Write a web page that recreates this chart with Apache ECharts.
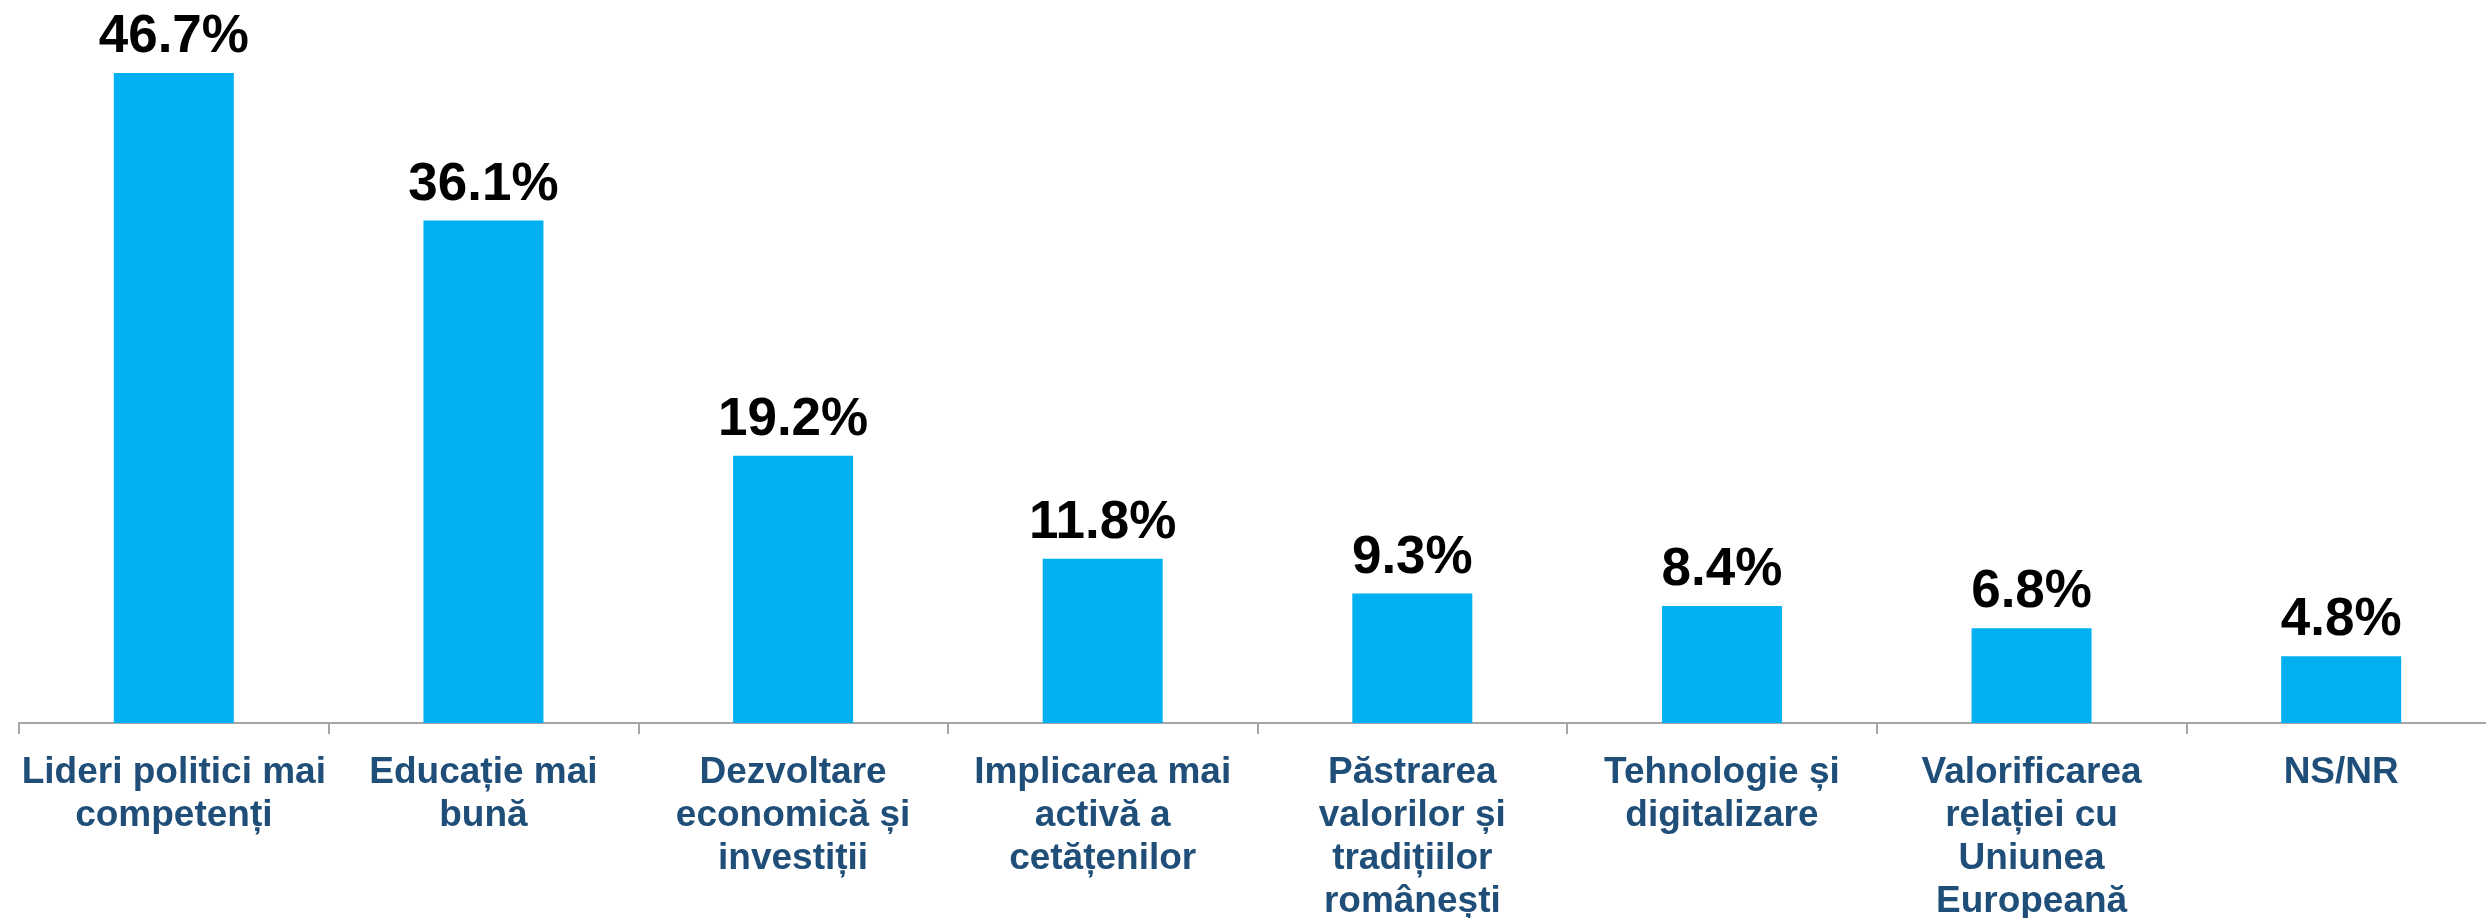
<!DOCTYPE html>
<html>
<head>
<meta charset="utf-8">
<style>
  html, body { margin: 0; padding: 0; background: #ffffff; }
  #chart { width: 2486px; height: 918px; }
</style>
<script src="https://cdn.jsdelivr.net/npm/echarts@6/dist/echarts.min.js"></script>
</head>
<body>
<div id="chart"></div>
<script>
const categories = [
  "Lideri politici mai\ncompetenți",
  "Educație mai\nbună",
  "Dezvoltare\neconomică și\ninvestiții",
  "Implicarea mai\nactivă a\ncetățenilor",
  "Păstrarea\nvalorilor și\ntradițiilor\nromânești",
  "Tehnologie și\ndigitalizare",
  "Valorificarea\nrelației cu\nUniunea\nEuropeană",
  "NS/NR"
];
const values = [46.7, 36.1, 19.2, 11.8, 9.3, 8.4, 6.8, 4.8];

const chart = echarts.init(document.getElementById('chart'), null, { renderer: 'canvas' });
chart.setOption({
  animation: false,
  backgroundColor: '#ffffff',
  grid: { left: 19, top: 27, width: 2477, bottom: 195, containLabel: false, outerBoundsMode: 'none' },
  xAxis: {
    type: 'category',
    data: categories,
    boundaryGap: true,
    axisLine: { show: true, lineStyle: { color: '#A6A6A6', width: 2 } },
    axisTick: { show: true, length: 11, lineStyle: { color: '#A6A6A6', width: 2 } },
    axisLabel: {
      interval: 0,
      margin: 28,
      color: '#1F4E79',
      fontFamily: '"Liberation Sans", Arial, sans-serif',
      fontWeight: 'bold',
      fontSize: 37,
      lineHeight: 43,
      align: 'center'
    }
  },
  yAxis: {
    type: 'value',
    min: 0,
    max: 50,
    show: false,
    splitLine: { show: false }
  },
  series: [{
    type: 'bar',
    data: values,
    barWidth: 120,
    itemStyle: { color: '#00B0F0' },
    label: {
      show: true,
      position: 'top',
      distance: 9,
      color: '#000000',
      fontFamily: '"Liberation Sans", Arial, sans-serif',
      fontWeight: 'bold',
      fontSize: 53,
      formatter: function (p) { return p.value.toFixed(1) + '%'; }
    }
  }]
});
</script>
</body>
</html>
